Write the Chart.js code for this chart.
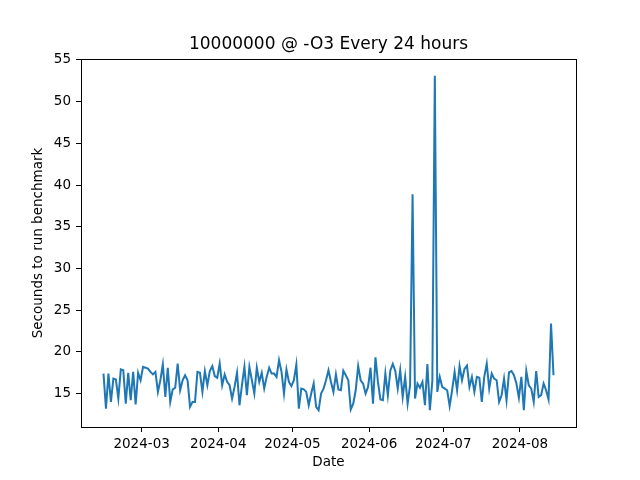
<!DOCTYPE html>
<html>
<head>
<meta charset="utf-8">
<script src="https://cdn.jsdelivr.net/npm/chart.js@4"></script>
<style>
  body { margin: 0; background: #fff; }
</style>
</head>
<body>
<canvas id="bench" width="640" height="480"></canvas>
<script>
// one run roughly every 24 hours, starting mid-February
const firstRun = '2024-02-14T14:00:00Z';
const monthTicks = ['2024-03', '2024-04', '2024-05', '2024-06', '2024-07', '2024-08'];
const yTicks = [15, 20, 25, 30, 35, 40, 45, 50, 55];
const seconds = [
    17.4, 13.2, 17.4, 14.0, 16.8, 16.7, 14.4, 17.9, 17.8, 13.8,
    17.5, 14.2, 17.6, 13.7, 17.5, 16.6, 18.2, 18.1, 18.0, 17.6,
    17.3, 17.6, 15.2, 16.6, 18.5, 14.6, 18.1, 14.0, 15.5, 15.7,
    18.6, 15.4, 16.6, 17.2, 16.6, 13.4, 14.0, 14.0, 17.6, 17.5,
    15.2, 17.7, 16.0, 17.7, 18.3, 17.1, 16.9, 18.6, 16.0, 17.3,
    16.4, 16.0, 14.4, 15.8, 17.5, 13.6, 16.0, 18.2, 14.8, 18.2,
    16.6, 15.0, 18.1, 16.4, 17.5, 15.6, 17.0, 18.1, 17.4, 17.4,
    17.0, 19.0, 17.6, 15.0, 17.9, 16.4, 15.9, 16.6, 18.5, 13.2,
    15.6, 15.5, 15.2, 13.6, 15.0, 16.2, 13.4, 13.0, 15.0, 15.6,
    16.6, 17.8, 16.4, 15.2, 17.3, 15.5, 15.4, 17.75, 17.2, 16.6,
    13.1, 13.8, 15.4, 18.3, 16.6, 16.2, 15.0, 15.8, 18.1, 13.8,
    19.35, 16.4, 14.3, 14.2, 17.4, 14.8, 17.75, 18.55, 17.75, 15.6,
    17.8, 14.6, 17.0, 13.8, 16.0, 38.9, 14.4, 16.2, 15.7, 16.4,
    13.6, 18.55, 13.0, 16.5, 53.1, 15.2, 17.0, 15.8, 15.6, 15.4,
    13.5, 15.4, 17.6, 15.4, 18.3, 16.6, 17.95, 18.35, 15.8, 17.0,
    15.2, 17.0, 16.9, 14.0, 17.0, 18.6, 15.6, 17.4, 16.8, 16.6,
    14.0, 14.8, 16.8, 14.2, 17.55, 17.7, 17.2, 16.2, 14.5, 17.0,
    13.0, 17.7, 16.0, 15.6, 14.0, 17.7, 14.6, 14.8, 16.2, 15.4,
    14.3, 23.4, 17.2
];

const DAY = 86400000;
const t0 = Date.parse(firstRun);
const points = seconds.map((v, i) => ({ x: t0 + i * DAY, y: v }));
const monthTimes = monthTicks.map(m => Date.parse(m + '-01T00:00:00Z'));

// matplotlib style 5% margins
const xSpan = (seconds.length - 1) * DAY;
const yLo = Math.min(...seconds), yHi = Math.max(...seconds);
const ySpan = yHi - yLo;

const FONT = 'DejaVu Sans';

// draw all four spines like matplotlib
const frame = {
    id: 'frame',
    afterDraw(chart) {
        const { ctx, chartArea: a } = chart;
        ctx.save();
        ctx.strokeStyle = '#000';
        ctx.lineWidth = 1;
        ctx.strokeRect(Math.round(a.left) + 0.5, Math.round(a.top) + 0.5,
            Math.round(a.right - a.left), Math.round(a.bottom - a.top));
        ctx.restore();
    }
};

new Chart(document.getElementById('bench'), {
    type: 'line',
    data: {
        datasets: [{
            data: points,
            borderColor: '#1f77b4',
            borderWidth: 2,
            pointRadius: 0,
            tension: 0,
            fill: false,
        }],
    },
    options: {
        responsive: false,
        animation: false,
        layout: { padding: { left: 17, right: 0, top: 0, bottom: 0 } },
        plugins: {
            legend: { display: false },
            tooltip: { enabled: false },
            title: {
                display: true,
                text: '10000000 @ -O3 Every 24 hours',
                color: '#000',
                font: { family: FONT, size: 17, weight: 'normal' },
                padding: { top: 34, bottom: 4.6 },
            },
        },
        scales: {
            x: {
                type: 'linear',
                min: t0 - 0.05 * xSpan,
                max: t0 + 1.05 * xSpan,
                afterBuildTicks: axis => { axis.ticks = monthTimes.map(v => ({ value: v })); },
                afterFit: axis => { axis.height = 53; },
                ticks: {
                    autoSkip: false,
                    maxRotation: 0,
                    padding: 4,
                    color: '#000',
                    font: { family: FONT, size: 13.5 },
                    callback: v => monthTicks[monthTimes.indexOf(v)],
                },
                grid: { drawOnChartArea: false, tickLength: 5, color: '#000' },
                border: { color: '#000' },
                title: {
                    display: true,
                    text: 'Date',
                    color: '#000',
                    font: { family: FONT, size: 13.5 },
                    padding: { top: 0, bottom: 9.5 },
                },
            },
            y: {
                min: yLo - 0.05 * ySpan,
                max: yHi + 0.05 * ySpan,
                afterBuildTicks: axis => { axis.ticks = yTicks.map(v => ({ value: v })); },
                afterFit: axis => { axis.width = 64; },
                ticks: {
                    padding: 5,
                    color: '#000',
                    font: { family: FONT, size: 13.5 },
                },
                grid: { drawOnChartArea: false, tickLength: 5, color: '#000' },
                border: { color: '#000' },
                title: {
                    display: true,
                    text: 'Secounds to run benchmark',
                    color: '#000',
                    font: { family: FONT, size: 13.5 },
                    padding: { top: 13.5, bottom: 0 },
                },
            },
            // empty right-hand gutter, same width as matplotlib's right margin
            gutter: {
                type: 'linear',
                position: 'right',
                min: 0,
                max: 1,
                afterFit: axis => { axis.width = 64; },
                ticks: { display: false },
                grid: { display: false },
                border: { display: false },
            },
        },
    },
    plugins: [frame],
});
</script>
</body>
</html>
